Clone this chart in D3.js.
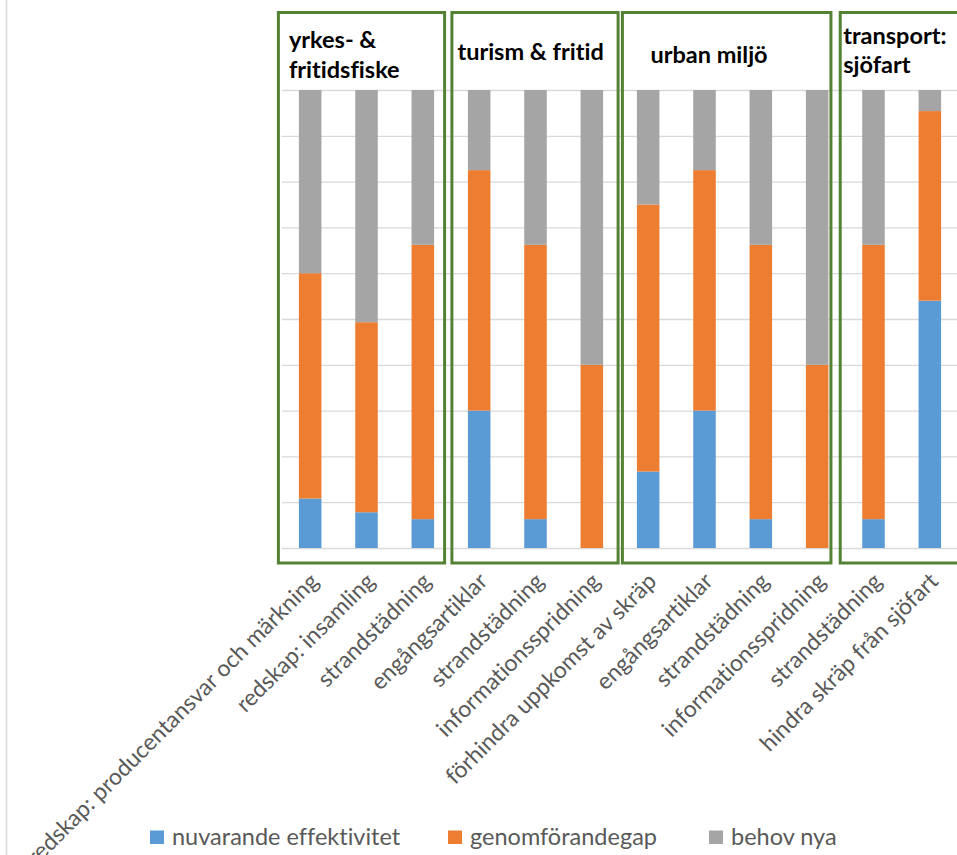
<!DOCTYPE html>
<html>
<head>
<meta charset="utf-8">
<script src="https://cdn.jsdelivr.net/npm/d3@7"></script>
<style>
  html, body { margin: 0; padding: 0; background: #ffffff; }
  svg { display: block; }
  text {
    font-family: Lato, "Open Sans", sans-serif;
    font-variant-ligatures: none;
    font-feature-settings: "liga" 0, "clig" 0;
  }
</style>
</head>
<body>
<svg id="chart" width="957" height="855"></svg>
<script>
// Åtgärder per sektor: andel nuvarande effektivitet, genomförandegap och behov av nya åtgärder (%)
const categories = [
  "redskap: producentansvar och märkning",
  "redskap: insamling",
  "strandstädning",
  "engångsartiklar",
  "strandstädning",
  "informationsspridning",
  "förhindra uppkomst av skräp",
  "engångsartiklar",
  "strandstädning",
  "informationsspridning",
  "strandstädning",
  "hindra skräp från sjöfart"
];
const nuvarande = [10.8, 7.8, 6.3, 30.0, 6.3, 0, 16.7, 30.0, 6.3, 0, 6.3, 54.0];
const genomforandegap = [49.2, 41.5, 59.9, 52.5, 59.9, 40.0, 58.3, 52.5, 59.9, 40.0, 59.9, 41.4];
const behovNya = [40.0, 50.7, 33.8, 17.5, 33.8, 60.0, 25.0, 17.5, 33.8, 60.0, 33.8, 4.6];

const seriesNames = ["nuvarande effektivitet", "genomförandegap", "behov nya"];
const seriesColors = ["#5b9bd5", "#ed7d31", "#a5a5a5"];

// Sektorgrupper: första och sista kategori-index i varje grupp
const groupTitles = [["yrkes- &", "fritidsfiske"], ["turism & fritid"], ["urban miljö"], ["transport:", "sjöfart"]];
const groupFirst = [0, 3, 6, 10];
const groupLast = [2, 5, 9, 11];

const yTicks = d3.range(0, 101, 10);

// ---- layout ----
const svg = d3.select("#chart");
const W = 957, H = 855;
const plotLeft = 282, plotRight = 958, plotTop = 90, plotBottom = 548;

// chart area border (left edge)
svg.append("line")
  .attr("x1", 6.5).attr("x2", 6.5).attr("y1", 0).attr("y2", H)
  .attr("stroke", "#d9d9d9").attr("stroke-width", 1.5);

const x = d3.scaleBand()
  .domain(d3.range(categories.length))
  .range([plotLeft, plotRight])
  .paddingInner(0.6)
  .paddingOuter(0.3);

const y = d3.scaleLinear().domain([0, 100]).range([plotBottom, plotTop]);

// gridlines
const yAxis = d3.axisLeft(y).tickValues(yTicks).tickSize(-(plotRight - plotLeft)).tickFormat("");
const gy = svg.append("g").attr("transform", `translate(${plotLeft},0)`).call(yAxis);
gy.select(".domain").remove();
gy.selectAll(".tick line").attr("stroke", "#d9d9d9").attr("stroke-width", 1.3);

// stacked bars
const rows = categories.map((c, i) => ({ i, a: nuvarande[i], b: genomforandegap[i], c: behovNya[i] }));
const stack = d3.stack().keys(["a", "b", "c"]);
const stacked = stack(rows);

svg.append("g").selectAll("g")
  .data(stacked)
  .join("g")
  .attr("fill", (d, k) => seriesColors[k])
  .selectAll("rect")
  .data(d => d)
  .join("rect")
  .attr("x", d => x(d.data.i))
  .attr("width", x.bandwidth())
  .attr("y", d => y(d[1]))
  .attr("height", d => y(d[0]) - y(d[1]));

// category axis labels, rotated
const xAxis = d3.axisBottom(x).tickSize(0).tickFormat(i => categories[i]);
const gx = svg.append("g").attr("transform", `translate(0,${plotBottom})`).call(xAxis);
gx.select(".domain").remove();
gx.selectAll(".tick text")
  .attr("fill", "#595959")
  .style("font-size", "23px")
  .attr("text-anchor", "end")
  .attr("x", 0).attr("y", 0).attr("dy", "0.35em")
  .attr("transform", "translate(4,29) rotate(-45)");

// group frames (annotation boxes around each sector)
const boxPadL = [20.5, 16, 14.5, 22];
const boxPadR = [10.5, 15, 2.5, 40];
const boxTop = 12.5, boxBottom = 563;
const frames = svg.append("g");
groupFirst.forEach((f, g) => {
  const x0 = x(f) - boxPadL[g];
  const x1 = x(groupLast[g]) + x.bandwidth() + boxPadR[g];
  frames.append("rect")
    .attr("x", x0).attr("y", boxTop)
    .attr("width", x1 - x0).attr("height", boxBottom - boxTop)
    .attr("fill", "none")
    .attr("stroke", "#548235")
    .attr("stroke-width", 3);
});

// group titles
const titleDx = [-10, -10.5, 13.5, -19];
const titleBaseline = [[47.5, 77.5], [59.5], [62.5], [43.5, 72.5]];
groupFirst.forEach((f, g) => {
  const tx = x(f) + titleDx[g];
  const t = svg.append("text")
    .attr("x", tx)
    .style("font-size", "23.5px")
    .style("font-weight", "700")
    .attr("fill", "#000000");
  groupTitles[g].forEach((line, j) => {
    t.append("tspan").attr("x", tx).attr("y", titleBaseline[g][j]).text(line);
  });
});

// legend
const legendX = [150, 448, 709];
const legend = svg.append("g");
seriesNames.forEach((name, k) => {
  legend.append("rect")
    .attr("x", legendX[k]).attr("y", 830.5)
    .attr("width", 14).attr("height", 13.5)
    .attr("fill", seriesColors[k]);
  legend.append("text")
    .attr("x", legendX[k] + 22).attr("y", 845)
    .attr("fill", "#595959")
    .style("font-size", "23.5px")
    .text(name);
});
</script>
</body>
</html>
